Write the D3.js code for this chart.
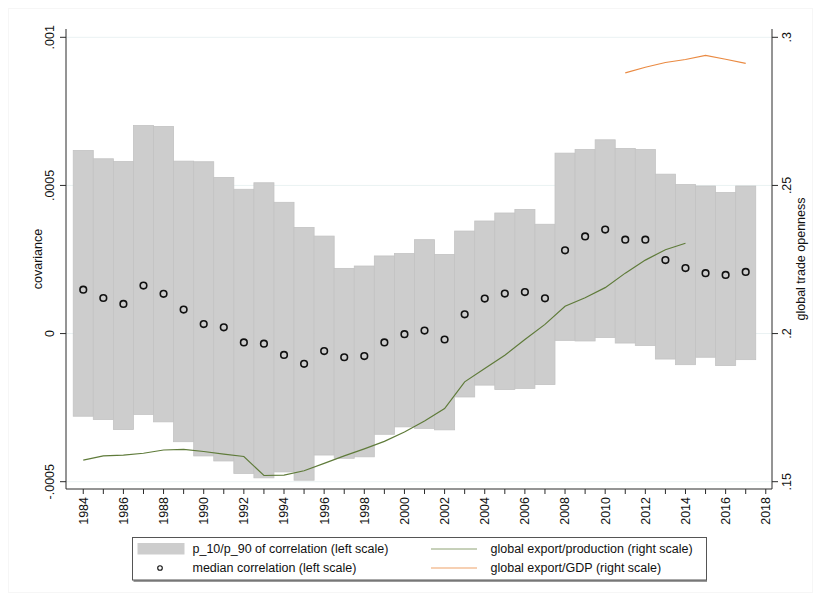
<!DOCTYPE html>
<html>
<head>
<meta charset="utf-8">
<script src="https://cdn.jsdelivr.net/npm/d3@7"></script>
<style>
  html, body { margin: 0; padding: 0; background: #ffffff; }
  svg { display: block; font-family: "Liberation Sans", Arial, Helvetica, sans-serif; }
</style>
</head>
<body>
<svg id="chart" width="821" height="601"></svg>
<script>
// Years covered by the correlation bands and medians
const years = d3.range(1984, 2018);

// p10 / p90 of the correlation (left scale)
const p10 = [-0.000279, -0.000290, -0.000324, -0.000273, -0.000298, -0.000365, -0.000413, -0.000430,
  -0.000472, -0.000487, -0.000467, -0.000495, -0.000410, -0.000421, -0.000416, -0.000340,
  -0.000315, -0.000320, -0.000325, -0.000214, -0.000174, -0.000189, -0.000185, -0.000172,
  -0.000023, -0.000025, -0.000013, -0.000032, -0.000040, -0.000086, -0.000105, -0.000080,
  -0.000108, -0.000088];
const p90 = [0.000618, 0.000590, 0.000581, 0.000702, 0.000699, 0.000582, 0.000580, 0.000527,
  0.000487, 0.000509, 0.000443, 0.000358, 0.000329, 0.000220, 0.000228, 0.000262,
  0.000270, 0.000317, 0.000267, 0.000346, 0.000380, 0.000407, 0.000419, 0.000369,
  0.000609, 0.000621, 0.000654, 0.000625, 0.000621, 0.000538, 0.000503, 0.000498,
  0.000476, 0.000498];

// Median correlation (left scale)
const median = [0.000148, 0.000120, 0.000100, 0.000162, 0.000134, 0.000081, 0.000032, 0.000021,
  -0.000030, -0.000034, -0.000072, -0.000102, -0.000059, -0.000080, -0.000076, -0.000030,
  -0.000002, 0.000010, -0.000020, 0.000065, 0.000118, 0.000135, 0.000140, 0.000119,
  0.000281, 0.000328, 0.000351, 0.000317, 0.000317, 0.000248, 0.000221, 0.000204,
  0.000198, 0.000208];

// Global export/production (right scale)
const prodYears = d3.range(1984, 2015);
const exportProduction = [0.1573, 0.1587, 0.1590, 0.1596, 0.1607, 0.1609, 0.1602, 0.1593,
  0.1585, 0.1521, 0.1522, 0.1537, 0.1562, 0.1587, 0.1611, 0.1636, 0.1668, 0.1705,
  0.1747, 0.1837, 0.1882, 0.1927, 0.1980, 0.2031, 0.2092, 0.2121, 0.2155, 0.2204,
  0.2248, 0.2283, 0.2305];

// Global export/GDP (right scale)
const gdpYears = d3.range(2011, 2018);
const exportGDP = [0.2880, 0.2899, 0.2915, 0.2925, 0.2939, 0.2926, 0.2912];

// Axis ticks
const xTicks = d3.range(1984, 2019, 2);
const xMinorTicks = d3.range(1985, 2018, 2);
const leftTicks = [-0.0005, 0, 0.0005, 0.001];
const leftTickLabels = ["-.0005", "0", ".0005", ".001"];
const rightTicks = [0.15, 0.2, 0.25, 0.3];
const rightTickLabels = [".15", ".2", ".25", ".3"];

const legendItems = [
  "p_10/p_90 of correlation (left scale)",
  "median correlation (left scale)",
  "global export/production (right scale)",
  "global export/GDP (right scale)"
];

const colors = {
  band: "#cdcdcd",
  bandEdge: "#c3c3c3",
  grid: "#eaf2f3",
  axis: "#2b2b2b",
  green: "#5f7b3a",
  orange: "#ea8a42"
};

const svg = d3.select("#chart");
const plot = { left: 66, right: 772, top: 29, bottom: 489 };

const x = d3.scaleLinear().domain([1983.14, 2018.31]).range([plot.left, plot.right]);
const yL = d3.scaleLinear().domain([-0.0005, 0.001]).range([481.7, 37.3]);
const yR = d3.scaleLinear().domain([0.15, 0.3]).range([481.7, 37.3]);

// faint outer frame
svg.append("rect").attr("x", 8.5).attr("y", 8.5).attr("width", 804).attr("height", 584)
  .attr("fill", "none").attr("stroke", "#f6f6f6");

// gridlines at left ticks
svg.append("g").selectAll("line").data(leftTicks).join("line")
  .attr("x1", plot.left).attr("x2", plot.right)
  .attr("y1", d => yL(d)).attr("y2", d => yL(d))
  .attr("stroke", colors.grid).attr("stroke-width", 1);

// p10/p90 bands
svg.append("g").selectAll("rect").data(years).join("rect")
  .attr("x", d => x(d - 0.5))
  .attr("width", d => x(d + 0.5) - x(d - 0.5))
  .attr("y", (d, i) => yL(p90[i]))
  .attr("height", (d, i) => yL(p10[i]) - yL(p90[i]))
  .attr("fill", colors.band)
  .attr("stroke", colors.bandEdge)
  .attr("stroke-width", 0.8);

// trade openness lines
const lineProd = d3.line().x((d, i) => x(prodYears[i])).y(d => yR(d));
svg.append("path").datum(exportProduction).attr("d", lineProd)
  .attr("fill", "none").attr("stroke", colors.green).attr("stroke-width", 1.2);

const lineGDP = d3.line().x((d, i) => x(gdpYears[i])).y(d => yR(d));
svg.append("path").datum(exportGDP).attr("d", lineGDP)
  .attr("fill", "none").attr("stroke", colors.orange).attr("stroke-width", 1.2);

// median markers
svg.append("g").selectAll("circle").data(years).join("circle")
  .attr("cx", d => x(d))
  .attr("cy", (d, i) => yL(median[i]))
  .attr("r", 3.3)
  .attr("fill", "none")
  .attr("stroke", "#111")
  .attr("stroke-width", 1.6);

// axes
const axisG = svg.append("g").attr("stroke", colors.axis).attr("stroke-width", 1);
axisG.append("line").attr("x1", plot.left).attr("x2", plot.left).attr("y1", plot.top).attr("y2", plot.bottom);
axisG.append("line").attr("x1", plot.right).attr("x2", plot.right).attr("y1", plot.top).attr("y2", plot.bottom);
axisG.append("line").attr("x1", plot.left).attr("x2", plot.right).attr("y1", plot.bottom).attr("y2", plot.bottom);

// left ticks
axisG.selectAll(".lt").data(leftTicks).join("line")
  .attr("x1", plot.left - 6).attr("x2", plot.left)
  .attr("y1", d => yL(d)).attr("y2", d => yL(d));
// right ticks
axisG.selectAll(".rt").data(rightTicks).join("line")
  .attr("x1", plot.right).attr("x2", plot.right + 6)
  .attr("y1", d => yR(d)).attr("y2", d => yR(d));
// bottom ticks
axisG.selectAll(".bt").data(xTicks.concat(xMinorTicks)).join("line")
  .attr("x1", d => x(d)).attr("x2", d => x(d))
  .attr("y1", plot.bottom).attr("y2", plot.bottom + 5);

const fontSize = 12.5;
const txt = svg.append("g").attr("fill", "#111").attr("font-size", fontSize);

// left tick labels (vertical)
txt.selectAll(".ll").data(leftTicks).join("text")
  .attr("transform", d => `translate(50,${yL(d)}) rotate(-90)`)
  .attr("text-anchor", "middle").attr("dy", "0.35em")
  .text((d, i) => leftTickLabels[i]);

// right tick labels (vertical)
txt.selectAll(".rl").data(rightTicks).join("text")
  .attr("transform", d => `translate(787,${yR(d)}) rotate(-90)`)
  .attr("text-anchor", "middle").attr("dy", "0.35em")
  .text((d, i) => rightTickLabels[i]);

// bottom tick labels (vertical)
txt.selectAll(".xl").data(xTicks).join("text")
  .attr("transform", d => `translate(${x(d)},497) rotate(-90)`)
  .attr("text-anchor", "end").attr("dy", "0.35em")
  .text(d => d);

// axis titles
txt.append("text")
  .attr("transform", `translate(38,${(plot.top + plot.bottom) / 2}) rotate(-90)`)
  .attr("text-anchor", "middle").attr("dy", "0.35em")
  .text("covariance");
txt.append("text")
  .attr("transform", `translate(801,${(plot.top + plot.bottom) / 2}) rotate(-90)`)
  .attr("text-anchor", "middle").attr("dy", "0.35em")
  .text("global trade openness");

// legend
const lg = svg.append("g");
lg.append("line").attr("x1", 133.5).attr("x2", 707).attr("y1", 581).attr("y2", 581)
  .attr("stroke", "#9a9a9a").attr("stroke-width", 2);
lg.append("rect").attr("x", 132.5).attr("y", 537.5).attr("width", 574).attr("height", 42.5)
  .attr("fill", "#fff").attr("stroke", "#555").attr("stroke-width", 1);

const row1 = 549, row2 = 568;
lg.append("rect").attr("x", 137.5).attr("y", 543).attr("width", 47).attr("height", 11.5)
  .attr("fill", colors.band);
lg.append("circle").attr("cx", 160).attr("cy", row2).attr("r", 2.3)
  .attr("fill", "none").attr("stroke", "#111").attr("stroke-width", 1.1);
lg.append("line").attr("x1", 431).attr("x2", 477).attr("y1", row1).attr("y2", row1)
  .attr("stroke", colors.green).attr("stroke-width", 1).attr("stroke-opacity", 0.7);
lg.append("line").attr("x1", 431).attr("x2", 477).attr("y1", row2).attr("y2", row2)
  .attr("stroke", colors.orange).attr("stroke-width", 1).attr("stroke-opacity", 0.8);

const legendPos = [[192.5, row1], [192.5, row2], [490.5, row1], [490.5, row2]];
lg.selectAll("text").data(legendItems).join("text")
  .attr("x", (d, i) => legendPos[i][0])
  .attr("y", (d, i) => legendPos[i][1])
  .attr("dy", "0.35em")
  .attr("font-size", fontSize)
  .attr("fill", "#111")
  .text(d => d);
</script>
</body>
</html>
